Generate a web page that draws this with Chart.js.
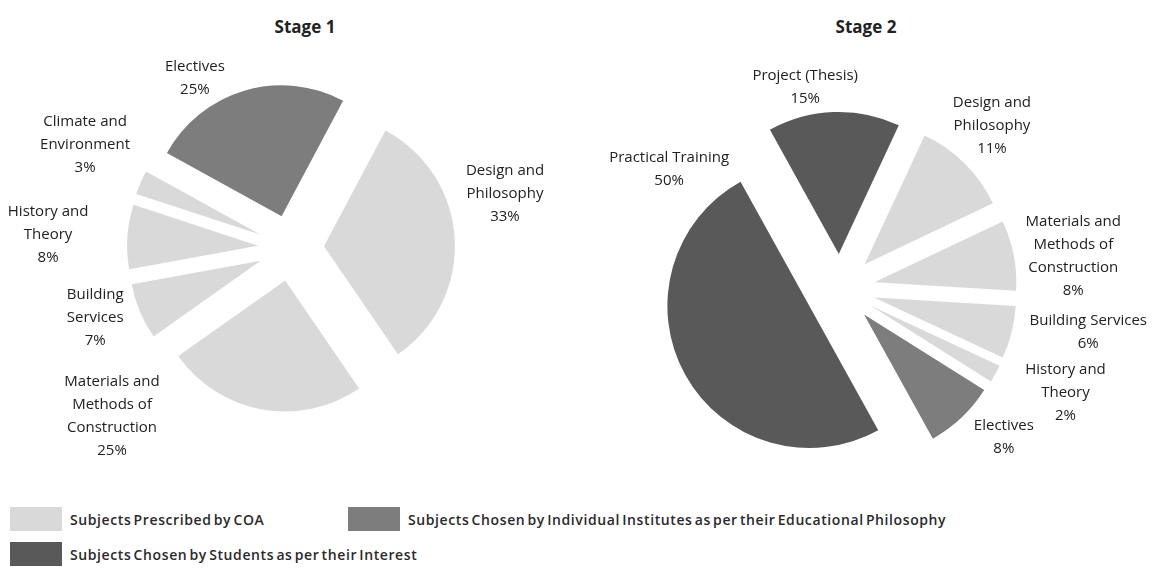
<!DOCTYPE html>
<html>
<head>
<meta charset="utf-8">
<script src="https://cdn.jsdelivr.net/npm/chart.js@4.4.1/dist/chart.umd.min.js"></script>
<style>
  body { margin: 0; background: #fff; width: 1156px; height: 568px; position: relative; overflow: hidden; font-family: "Open Sans", sans-serif; color: #222; }
  canvas { position: absolute; top: 0; }
  #stage1 { left: 0; }
  #stage2 { left: 580px; }
  .title { position: absolute; top: 15px; font-weight: bold; font-size: 17px; transform: translateX(-50%); white-space: nowrap; }
  .legend-item { position: absolute; display: flex; align-items: center; font-size: 14px; font-weight: 600; white-space: nowrap; letter-spacing: 0.6px; word-spacing: -2px; color: #2a2a2a; }
  .legend-item span.sw { display: inline-block; width: 52px; height: 24px; margin-right: 8px; }
</style>
</head>
<body>
<div class="title" style="left:305px">Stage 1</div>
<div class="title" style="left:866px">Stage 2</div>
<canvas id="stage1" width="580" height="470"></canvas>
<canvas id="stage2" width="576" height="470"></canvas>
<div id="legend"></div>
<script>
// groups: 0 = prescribed by COA, 1 = chosen by institutes, 2 = chosen by students
const groupNames = [
  'Subjects Prescribed by COA',
  'Subjects Chosen by Individual Institutes as per their Educational Philosophy',
  'Subjects Chosen by Students as per their Interest'
];
const groupColors = ['#d9d9d9', '#7d7d7d', '#595959'];

const stage1Labels = [
  ['Design and', 'Philosophy'],
  ['Materials and', 'Methods of', 'Construction'],
  ['Building', 'Services'],
  ['History and', 'Theory'],
  ['Climate and', 'Environment'],
  ['Electives']
];
const stage1Values = [33, 25, 7, 8, 3, 25];
const stage1Groups = [0, 0, 0, 0, 0, 1];

const stage2Labels = [
  ['Project (Thesis)'],
  ['Design and', 'Philosophy'],
  ['Materials and', 'Methods of', 'Construction'],
  ['Building Services'],
  ['History and', 'Theory'],
  ['Electives'],
  ['Practical Training']
];
const stage2Values = [15, 11, 8, 6, 2, 8, 50];
const stage2Groups = [2, 0, 0, 0, 0, 1, 2];

// pull every slice out along its middle angle
const explode = {
  id: 'explode',
  afterDatasetUpdate(chart, args, opts) {
    const d = opts.distance || 0;
    args.meta.data.forEach(arc => {
      const mid = (arc.startAngle + arc.endAngle) / 2;
      arc.x += Math.cos(mid) * d;
      arc.y += Math.sin(mid) * d;
    });
  }
};

// outside labels: angle (deg, clockwise from top) and distance as a multiple of the radius
const sliceLabels = {
  id: 'sliceLabels',
  afterDatasetsDraw(chart, args, opts) {
    const meta = chart.getDatasetMeta(0);
    const R = meta.controller.outerRadius;
    const ca = chart.chartArea;
    const cx = (ca.left + ca.right) / 2, cy = (ca.top + ca.bottom) / 2;
    const ds = chart.data.datasets[0];
    const ctx = chart.ctx;
    ctx.save();
    ctx.font = '15px "Open Sans"';
    ctx.fillStyle = '#222';
    ctx.textAlign = 'center';
    ctx.textBaseline = 'middle';
    chart.data.labels.forEach((lab, i) => {
      const a = opts.angles[i] * Math.PI / 180;
      const r = opts.dist[i] * R;
      const x = cx + Math.sin(a) * r, y = cy - Math.cos(a) * r;
      const lines = [...lab, ds.data[i] + '%'];
      const lh = 23;
      lines.forEach((t, k) => {
        ctx.fillText(t, x, y + (k - (lines.length - 1) / 2) * lh);
      });
    });
    ctx.restore();
  }
};

function makePie(id, labels, values, groups, rotation, padding, distance, angles, dist) {
  return new Chart(document.getElementById(id), {
    type: 'pie',
    data: {
      labels: labels,
      datasets: [{
        data: values,
        backgroundColor: groups.map(g => groupColors[g]),
        borderWidth: 0
      }]
    },
    options: {
      responsive: false,
      animation: false,
      rotation: rotation,
      layout: { padding: padding },
      plugins: {
        legend: { display: false },
        tooltip: { enabled: false },
        explode: { distance: distance },
        sliceLabels: { angles: angles, dist: dist }
      }
    },
    plugins: [explode, sliceLabels]
  });
}

makePie('stage1', stage1Labels, stage1Values, stage1Groups, 28,
  { top: 117, bottom: 91, left: 141, right: 139 }, 33,
  [75.8, 226.8, 250.3, 273.1, 296.6, 330.5],
  [1.685, 1.874, 1.588, 1.857, 1.758, 1.49]);

makePie('stage2', stage2Labels, stage2Values, stage2Groups, -29,
  { top: 147, bottom: 39, left: 101, right: 157 }, 35,
  [350.2, 43, 82, 99.8, 114.8, 132.1, 305.1],
  [1.44, 1.569, 1.659, 1.774, 1.749, 1.555, 1.471]);

// legend
const legendPos = [[10, 507], [348, 507], [10, 542]];
const legend = document.getElementById('legend');
groupNames.forEach((name, i) => {
  const el = document.createElement('div');
  el.className = 'legend-item';
  el.style.left = legendPos[i][0] + 'px';
  el.style.top = legendPos[i][1] + 'px';
  el.innerHTML = '<span class="sw" style="background:' + groupColors[i] + '"></span>' + name;
  legend.appendChild(el);
});
</script>
</body>
</html>
